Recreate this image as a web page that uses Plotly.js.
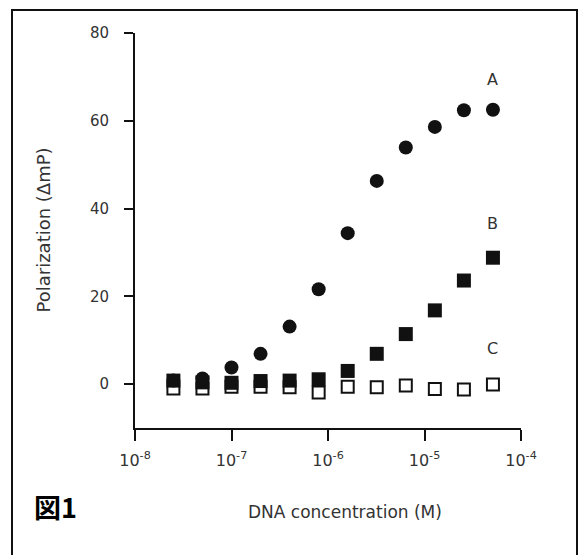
<!DOCTYPE html>
<html>
<head>
<meta charset="utf-8">
<script src="https://cdn.plot.ly/plotly-3.0.1.min.js"></script>
<style>
html,body{margin:0;padding:0;background:#fff;}
#chart{width:584px;height:555px;}
</style>
</head>
<body>
<div id="chart"></div>
<script>
// DNA concentration (M)
var concentration = [2.5e-8, 5e-8, 1e-7, 2e-7, 4e-7, 8e-7, 1.6e-6, 3.2e-6, 6.4e-6, 1.28e-5, 2.56e-5, 5.12e-5];
// Polarization (ΔmP)
var seriesA = [0.8, 1.3, 3.8, 6.9, 13.1, 21.6, 34.4, 46.3, 53.9, 58.6, 62.4, 62.5];
var seriesB = [0.8, 0.4, 0.3, 0.7, 0.8, 1.1, 3.0, 6.9, 11.4, 16.8, 23.6, 28.8];
var seriesC = [-1.0, -1.0, -0.6, -0.6, -0.7, -1.9, -0.6, -0.7, -0.3, -1.1, -1.2, -0.1];
var seriesNames = ["A", "B", "C"];
var yTicks = [0, 20, 40, 60, 80];
var xTicks = [1e-8, 1e-7, 1e-6, 1e-5, 1e-4];
var xTickLabels = ["10<sup>-8</sup>", "10<sup>-7</sup>", "10<sup>-6</sup>", "10<sup>-5</sup>", "10<sup>-4</sup>"];
var xTitle = "DNA concentration (M)";
var yTitle = "Polarization (ΔmP)";
var figLabel = "図1";

var ink = "#111";
var txt = "#333";
var FONT = "DejaVu Sans, Liberation Sans, Arial, sans-serif";

var traces = [
  {x: concentration, y: seriesC, name: seriesNames[2], type: "scatter", mode: "markers",
   marker: {symbol: "square", size: 12, color: "#fff", line: {color: ink, width: 2}}},
  {x: concentration, y: seriesB, name: seriesNames[1], type: "scatter", mode: "markers",
   marker: {symbol: "square", size: 14, color: ink, line: {width: 0}}},
  {x: concentration, y: seriesA, name: seriesNames[0], type: "scatter", mode: "markers",
   marker: {symbol: "circle", size: 14, color: ink, line: {width: 0}}}
];

// plot area in pixels: x 135..521, y 33..428
var L = 135, R = 521, T = 33, B = 428;
function px(xp){ return (xp - L) / (R - L); }
function py(yp){ return (B - yp) / (B - T); }

var layout = {
  width: 584, height: 555,
  margin: {l: L, r: 584 - R, t: T, b: 555 - B, pad: 0},
  paper_bgcolor: "#fff", plot_bgcolor: "#fff",
  showlegend: false,
  font: {family: FONT, color: txt},
  xaxis: {
    type: "log", range: [-8, -4],
    tickmode: "array", tickvals: xTicks, ticktext: xTickLabels,
    ticks: "outside", ticklen: 11, tickwidth: 2, tickcolor: ink,
    showline: true, linewidth: 2, linecolor: ink,
    showgrid: false, zeroline: false,
    tickfont: {family: FONT, size: 16, color: txt},
    ticklabelstandoff: 6
  },
  yaxis: {
    range: [-10, 80], tickmode: "array", tickvals: yTicks,
    ticks: "outside", ticklen: 9, tickwidth: 2, tickcolor: ink,
    showline: true, linewidth: 2, linecolor: ink,
    showgrid: false, zeroline: false,
    tickfont: {family: FONT, size: 15, color: txt},
    ticklabelstandoff: 12
  },
  annotations: [
    {x: Math.log10(concentration[concentration.length-1]), y: 69.5, xref: "x", yref: "y", text: seriesNames[0], showarrow: false,
     font: {family: FONT, size: 16, color: txt}, xanchor: "center", yanchor: "middle"},
    {x: Math.log10(concentration[concentration.length-1]), y: 36.5, xref: "x", yref: "y", text: seriesNames[1], showarrow: false,
     font: {family: FONT, size: 16, color: txt}, xanchor: "center", yanchor: "middle"},
    {x: Math.log10(concentration[concentration.length-1]), y: 8.1, xref: "x", yref: "y", text: seriesNames[2], showarrow: false,
     font: {family: FONT, size: 16, color: txt}, xanchor: "center", yanchor: "middle"},
    {x: px(345), y: py(512), xref: "paper", yref: "paper", text: xTitle, showarrow: false,
     font: {family: FONT, size: 17, color: txt}, xanchor: "center", yanchor: "middle"},
    {x: px(43), y: py(230.5), xref: "paper", yref: "paper", text: yTitle, showarrow: false, textangle: -90,
     font: {family: FONT, size: 18, color: txt}, xanchor: "center", yanchor: "middle"},
    {x: px(32), y: py(506), xref: "paper", yref: "paper", text: "<b>" + figLabel + "</b>", showarrow: false,
     font: {family: "Noto Sans CJK JP, sans-serif", size: 27, color: "#000"}, xanchor: "left", yanchor: "middle"}
  ],
  shapes: [
    {type: "path", xref: "paper", yref: "paper",
     path: "M" + px(12) + "," + py(570) + " L" + px(12) + "," + py(10) + " L" + px(577) + "," + py(10) + " L" + px(577) + "," + py(570),
     line: {color: ink, width: 2}}
  ]
};

Plotly.newPlot("chart", traces, layout, {displayModeBar: false, staticPlot: true});
</script>
</body>
</html>
